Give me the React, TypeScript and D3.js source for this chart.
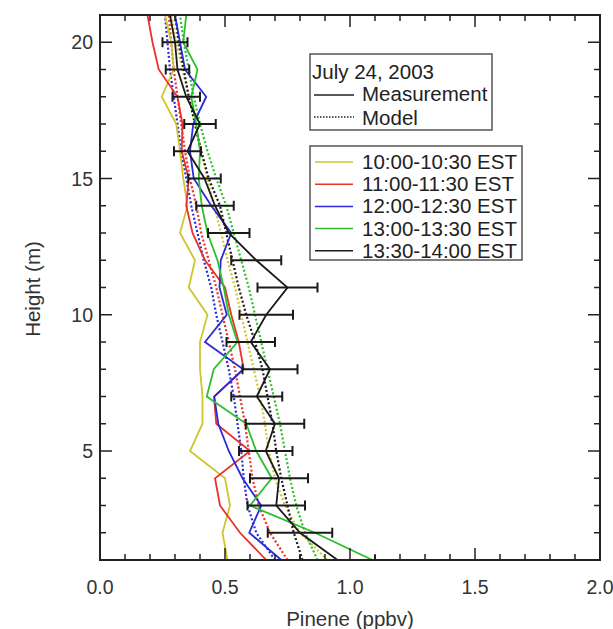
import React from "react";
import * as d3 from "d3";

const heights = [1, 2, 3, 4, 5, 6, 7, 8, 9, 10, 11, 12, 13, 14, 15, 16, 17, 18, 19, 20, 21];

const periods = ["10:00-10:30 EST", "11:00-11:30 EST", "12:00-12:30 EST", "13:00-13:30 EST", "13:30-14:00 EST"];
const colors = ["#cfc52c", "#e8322a", "#2a2ad6", "#2ebf2e", "#1a1a1a"];

const meas1000 = [0.51, 0.49, 0.52, 0.5, 0.36, 0.41, 0.41, 0.4, 0.4, 0.43, 0.355, 0.38, 0.32, 0.35, 0.333, 0.32, 0.305, 0.247, 0.295, 0.285, 0.26];
const meas1100 = [0.665, 0.56, 0.48, 0.46, 0.6, 0.465, 0.456, 0.575, 0.555, 0.525, 0.5, 0.42, 0.37, 0.345, 0.355, 0.327, 0.33, 0.31, 0.235, 0.21, 0.19];
const meas1200 = [0.725, 0.597, 0.645, 0.57, 0.515, 0.473, 0.457, 0.573, 0.42, 0.507, 0.478, 0.483, 0.525, 0.445, 0.375, 0.36, 0.373, 0.425, 0.34, 0.32, 0.3];
const meas1300 = [1.09, 0.86, 0.6, 0.687, 0.625, 0.585, 0.427, 0.455, 0.55, 0.515, 0.495, 0.47, 0.43, 0.407, 0.395, 0.4, 0.385, 0.365, 0.39, 0.333, 0.345];
const meas1330 = [0.95, 0.8, 0.705, 0.716, 0.663, 0.7, 0.627, 0.68, 0.603, 0.665, 0.75, 0.625, 0.515, 0.46, 0.418, 0.35, 0.4, 0.345, 0.31, 0.3, 0.28];
const err1330 = [0.15, 0.129, 0.115, 0.116, 0.107, 0.117, 0.102, 0.11, 0.097, 0.107, 0.12, 0.1, 0.083, 0.075, 0.065, 0.054, 0.063, 0.055, 0.047, 0.05];

const model1000 = [0.91, 0.8, 0.74, 0.7, 0.675, 0.66, 0.64, 0.615, 0.59, 0.565, 0.54, 0.51, 0.485, 0.455, 0.43, 0.405, 0.38, 0.355, 0.33, 0.305, 0.285];
const model1100 = [0.75, 0.68, 0.635, 0.61, 0.595, 0.58, 0.56, 0.54, 0.515, 0.49, 0.465, 0.435, 0.405, 0.385, 0.36, 0.34, 0.325, 0.31, 0.295, 0.285, 0.275];
const model1200 = [0.7, 0.625, 0.59, 0.575, 0.565, 0.55, 0.535, 0.515, 0.49, 0.465, 0.445, 0.415, 0.39, 0.365, 0.345, 0.325, 0.31, 0.295, 0.28, 0.27, 0.26];
const model1300 = [0.87, 0.82, 0.785, 0.76, 0.74, 0.72, 0.695, 0.67, 0.645, 0.62, 0.595, 0.565, 0.535, 0.505, 0.465, 0.43, 0.4, 0.375, 0.355, 0.335, 0.32];
const model1330 = [0.81, 0.775, 0.75, 0.725, 0.705, 0.69, 0.67, 0.65, 0.62, 0.585, 0.555, 0.53, 0.505, 0.48, 0.435, 0.405, 0.38, 0.355, 0.335, 0.315, 0.3];

const xTicks = [0, 0.5, 1.0, 1.5, 2.0];
const yTicks = [5, 10, 15, 20];

const measurements = [meas1000, meas1100, meas1200, meas1300, meas1330];
const models = [model1000, model1100, model1200, model1300, model1330];

const W = 613, H = 629;
const L = 100, R = 600, T = 15, B = 560;
const FONT = "Arial, 'Liberation Sans', Helvetica, sans-serif";

export default function App() {
  const x = d3.scaleLinear().domain([0, 2]).range([L, R]);
  const y = d3.scaleLinear().domain([1, 21]).range([B, T]);
  const line = (vals: number[]) =>
    d3.line<number>().x((v) => x(v)).y((_, i) => y(heights[i]))(vals) || "";

  const xMinor = d3.range(0, 2.0001, 0.1);
  const yMinor = d3.range(1, 21.0001, 1);

  const legX = 310;
  const LF = 20.5;
  return (
    <svg width={W} height={H} style={{ position: "absolute", left: 0, top: 0, background: "#fff" }} fontFamily={FONT}>
      <defs>
        <clipPath id="plot">
          <rect x={L} y={T} width={R - L} height={B - T} />
        </clipPath>
      </defs>
      <g clipPath="url(#plot)">
        {models.map((m, i) => (
          <path key={"m" + i} d={line(m)} fill="none" stroke={colors[i]} strokeWidth={2.2} strokeDasharray="2,2.2" />
        ))}
        {measurements.map((m, i) => (
          <path key={"s" + i} d={line(m)} fill="none" stroke={colors[i]} strokeWidth={1.8} />
        ))}
        {err1330.map((e, i) => {
          const c = meas1330[i];
          const yy = y(heights[i]);
          return (
            <g key={"e" + i} stroke="#1a1a1a" strokeWidth={2}>
              <line x1={x(c - e)} x2={x(c + e)} y1={yy} y2={yy} />
              <line x1={x(c - e)} x2={x(c - e)} y1={yy - 5} y2={yy + 5} />
              <line x1={x(c + e)} x2={x(c + e)} y1={yy - 5} y2={yy + 5} />
            </g>
          );
        })}
      </g>
      {/* frame */}
      <rect x={L} y={T} width={R - L} height={B - T} fill="none" stroke="#222" strokeWidth={2} />
      {/* x ticks */}
      {xMinor.map((v, i) => {
        const major = i % 5 === 0;
        const len = major ? 12 : 6;
        return (
          <g key={"xt" + i} stroke="#222" strokeWidth={1.5}>
            <line x1={x(v)} x2={x(v)} y1={B} y2={B - len} />
            <line x1={x(v)} x2={x(v)} y1={T} y2={T + len} />
          </g>
        );
      })}
      {yMinor.map((v, i) => {
        const major = v % 5 === 0;
        const len = major ? 12 : 6;
        return (
          <g key={"yt" + i} stroke="#222" strokeWidth={1.5}>
            <line x1={L} x2={L + len} y1={y(v)} y2={y(v)} />
            <line x1={R} x2={R - len} y1={y(v)} y2={y(v)} />
          </g>
        );
      })}
      {xTicks.map((v) => (
        <text key={"xl" + v} x={x(v)} y={594} textAnchor="middle" fontSize={19.5} fill="#333">
          {v.toFixed(1)}
        </text>
      ))}
      {yTicks.map((v) => (
        <text key={"yl" + v} x={93} y={y(v) + 7} textAnchor="end" fontSize={19.5} fill="#333">
          {v}
        </text>
      ))}
      <text x={350} y={626} textAnchor="middle" fontSize={20.5} fill="#333">Pinene (ppbv)</text>
      <text transform={`translate(40,${289}) rotate(-90)`} textAnchor="middle" fontSize={20.5} fill="#333">Height (m)</text>

      {/* legend 1 */}
      <rect x={legX} y={54} width={182} height={76} fill="#fff" stroke="#555" strokeWidth={1.5} />
      <text x={312} y={79} fontSize={LF} fill="#222">July 24, 2003</text>
      <line x1={314} x2={354} y1={95} y2={95} stroke="#222" strokeWidth={1.3} />
      <text x={362} y={101} fontSize={LF} fill="#222">Measurement</text>
      <line x1={314} x2={354} y1={117} y2={117} stroke="#222" strokeWidth={1.3} strokeDasharray="1.5,1.5" />
      <text x={362} y={124.5} fontSize={LF} fill="#222">Model</text>

      {/* legend 2 */}
      <rect x={legX} y={146} width={212} height={114} fill="#fff" stroke="#555" strokeWidth={1.5} />
      {periods.map((p, i) => {
        const yy = 162 + i * 22.2;
        return (
          <g key={"lg" + i}>
            <line x1={315} x2={353} y1={yy} y2={yy} stroke={colors[i]} strokeWidth={1.5} />
            <text x={362} y={yy + 7} fontSize={LF} fill="#222">{p}</text>
          </g>
        );
      })}
    </svg>
  );
}
